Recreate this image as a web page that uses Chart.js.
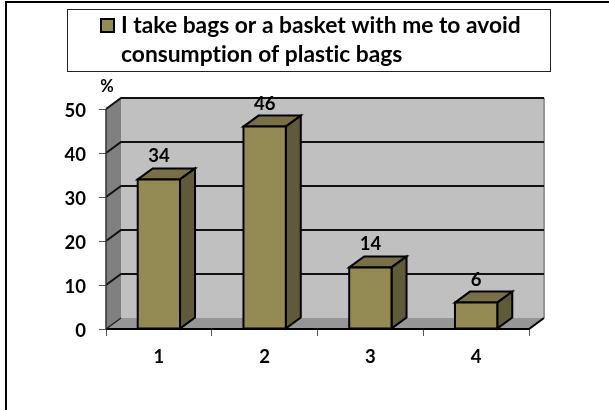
<!DOCTYPE html>
<html><head><meta charset="utf-8">
<style>html,body{margin:0;padding:0;background:#fff}#w{position:relative;width:609px;height:410px}canvas{display:block}</style>
<script src="https://cdn.jsdelivr.net/npm/chart.js@4"></script></head>
<body><div id="w"><canvas id="c" width="609" height="410"></canvas></div>
<script>
const categories = ['1','2','3','4'];
const values = [34,46,14,6];
const valueTicks = [0,10,20,30,40,50];
const legendLines = ['I take bags or a basket with me to avoid','consumption of plastic bags'];
const unitLabel = '%';
const FONT='Lato, Carlito, sans-serif';
const DX=15, DY=-11;
const FRONT='#948A54', TOP='#7A7048', SIDE='#5F5A38', LINE='#000';

function poly(ctx,pts,fill,lw){ctx.beginPath();pts.forEach((p,i)=>i?ctx.lineTo(p[0],p[1]):ctx.moveTo(p[0],p[1]));ctx.closePath();
  if(fill){ctx.fillStyle=fill;ctx.fill();}
  if(lw){ctx.lineWidth=lw;ctx.strokeStyle=LINE;ctx.stroke();}}

const scene={id:'scene',
 beforeDatasetsDraw(chart){
  const {ctx,chartArea:a,scales:{y}}=chart;
  ctx.save();
  poly(ctx,[[a.left+DX,a.top+DY],[a.right+DX,a.top+DY],[a.right+DX,a.bottom+DY],[a.left+DX,a.bottom+DY]],'#C0C0C0');
  poly(ctx,[[a.left,a.top],[a.left+DX,a.top+DY],[a.left+DX,a.bottom+DY],[a.left,a.bottom]],'#808080');
  poly(ctx,[[a.left,a.bottom],[a.left+DX,a.bottom+DY],[a.right+DX,a.bottom+DY],[a.right,a.bottom]],'#969696');
  ctx.fillStyle='#969696';ctx.fillRect(a.right+DX-1,a.top+DY,2,a.bottom-a.top);
  ctx.strokeStyle='#111';ctx.lineWidth=2;
  valueTicks.forEach(t=>{ if(t===0) return; const py=y.getPixelForValue(t);
    ctx.beginPath();ctx.moveTo(a.left,py);ctx.lineTo(a.left+DX,py+DY);ctx.lineTo(a.right+DX,py+DY);ctx.stroke();});
  ctx.strokeStyle='#000';
  ctx.beginPath();ctx.moveTo(a.left,a.bottom);ctx.lineTo(a.right,a.bottom);ctx.lineTo(a.right+DX,a.bottom+DY);ctx.stroke();
  ctx.beginPath();ctx.moveTo(a.left,a.top);ctx.lineTo(a.left,a.bottom);ctx.strokeStyle='#333';ctx.lineWidth=1.5;ctx.stroke();
  ctx.beginPath();ctx.moveTo(a.left,a.bottom);ctx.lineTo(a.left+DX,a.bottom+DY);ctx.strokeStyle='#222';ctx.lineWidth=1.5;ctx.stroke();
  ctx.restore();
 },
 afterDatasetsDraw(chart){
  const {ctx}=chart; ctx.save(); ctx.lineJoin='miter';
  chart.getDatasetMeta(0).data.forEach((b,i)=>{
    const {x,y,base,width}=b.getProps(['x','y','base','width'],true);
    const l=x-width/2,r=x+width/2;
    poly(ctx,[[l,y],[l+DX,y+DY],[r+DX,y+DY],[r,y]],TOP,2);
    poly(ctx,[[r,y],[r+DX,y+DY],[r+DX,base+DY],[r,base]],SIDE,2);
    poly(ctx,[[l,y],[r,y],[r,base],[l,base]],FRONT,2);
  });
  ctx.fillStyle='#000';ctx.font='bold 18.5px '+FONT;ctx.textAlign='center';ctx.textBaseline='middle';
  chart.getDatasetMeta(0).data.forEach((b,i)=>{ctx.fillText(String(values[i]),b.x,b.y-23);});
  ctx.font='bold 16.5px '+FONT;ctx.fillText(unitLabel,107,87);
  ctx.restore();
 },
 afterDraw(chart){
  const {ctx}=chart; ctx.save();
  ctx.fillStyle='#000';ctx.fillRect(5,1,604,2);ctx.fillRect(5,1,2,409);
  ctx.fillStyle='#fff';ctx.strokeStyle='#222';ctx.lineWidth=1;ctx.fillRect(67.5,9.5,483,62);ctx.strokeRect(67.5,9.5,483,62);
  ctx.fillStyle=FRONT;ctx.lineWidth=2;ctx.strokeStyle='#000';ctx.fillRect(101,19,13,13);ctx.strokeRect(101,19,13,13);
  ctx.fillStyle='#000';ctx.font='bold 22.8px '+FONT;ctx.textAlign='left';ctx.textBaseline='middle';
  ctx.textRendering='optimizeSpeed';
  ctx.fillText(legendLines[0],121,26);ctx.fillText(legendLines[1],121,55);
  ctx.restore();
 }};

new Chart(document.getElementById('c'),{
 type:'bar',
 data:{labels:categories,datasets:[{label:legendLines.join(' '),data:values,backgroundColor:'rgba(0,0,0,0)',borderWidth:0,barPercentage:0.4,categoryPercentage:1}]},
 options:{responsive:false,animation:false,
  layout:{padding:{left:0,right:80,top:109,bottom:0}},
  plugins:{legend:{display:false},title:{display:false},tooltip:{enabled:false}},
  scales:{
   x:{offset:true,afterFit(s){s.height=81;},grid:{display:true,drawOnChartArea:false,drawTicks:true,tickLength:7,color:'#555',offset:true},border:{display:false},
      ticks:{color:'#000',font:{family:FONT,size:18.5,weight:'bold'},padding:10,maxRotation:0}},
   y:{min:0,max:50,afterFit(s){s.width=106;},grid:{drawOnChartArea:false,tickLength:7,color:'#555'},border:{display:false},
      afterBuildTicks(s){s.ticks=valueTicks.map(v=>({value:v}));},
      ticks:{color:'#000',font:{family:FONT,size:18.5,weight:'bold'},padding:13,labelOffset:2}}
  }},
 plugins:[scene]
});
</script></body></html>
